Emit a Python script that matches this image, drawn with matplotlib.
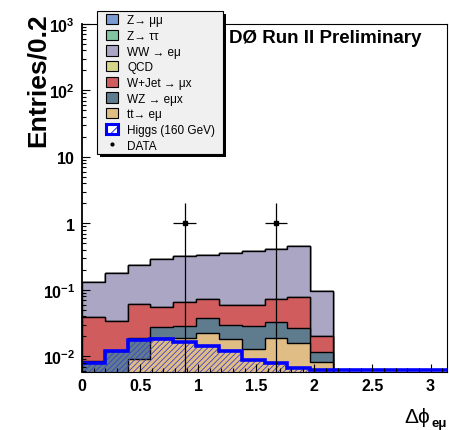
import numpy as np
import matplotlib
matplotlib.use('Agg')
import matplotlib.pyplot as plt
from matplotlib.patches import Patch, Rectangle
from matplotlib.lines import Line2D
from matplotlib.ticker import LogLocator, MultipleLocator, NullFormatter

plt.rcParams['font.family'] = ['Liberation Sans', 'DejaVu Sans']
plt.rcParams['mathtext.fontset'] = 'custom'
plt.rcParams['mathtext.rm'] = 'Liberation Sans'
plt.rcParams['mathtext.bf'] = 'Liberation Sans:bold'
plt.rcParams['hatch.linewidth'] = 0.6

# 16 bins in delta phi from 0 to pi
nbins = 16
edges = np.linspace(0, np.pi, nbins + 1)

# expected events per bin
zmumu = [0] * 16
ztautau = [0] * 16
qcd = [0] * 16
ttbar = [0, 0, 0.0092, 0.019, 0.019, 0.0226, 0.018, 0.0127, 0.019, 0.016, 0.0082, 0, 0, 0, 0, 0]
wz = [0.0085, 0.012, 0.0098, 0.0087, 0.010, 0.0152, 0.0114, 0.0157, 0.0136, 0.0105, 0.0035, 0, 0, 0, 0, 0]
wjet = [0.031, 0.0224, 0.042, 0.028, 0.0365, 0.0348, 0.0306, 0.0316, 0.0414, 0.0522, 0.0083, 0, 0, 0, 0, 0]
ww = [0.0935, 0.146, 0.179, 0.234, 0.255, 0.267, 0.300, 0.330, 0.336, 0.371, 0.077, 0, 0, 0, 0, 0]
higgs = [0.008, 0.012, 0.0173, 0.018, 0.0164, 0.0143, 0.012, 0.0087, 0.008, 0.0066, 0, 0, 0, 0, 0, 0]
data = [0, 0, 0, 0, 1, 0, 0, 0, 1, 0, 0, 0, 0, 0, 0, 0]

labels = ['Z\u2192 \u03bc\u03bc', 'Z\u2192 \u03c4\u03c4', 'WW \u2192 e\u03bc', 'QCD',
          'W+Jet \u2192 \u03bcx', 'WZ \u2192 e\u03bcx', 'tt\u2192 e\u03bc']
colors = ['#7b9bd3', '#80c4a0', '#aaa6c4', '#d6d48a', '#d05c5e', '#5f7b8e', '#e1bd86']

xticks = [0, 0.5, 1, 1.5, 2, 2.5, 3]
xticklabels = ['0', '0.5', '1', '1.5', '2', '2.5', '3']
yticks = [1e-2, 1e-1, 1, 10, 1e2, 1e3]
yticklabels = [r'$\mathbf{10^{-2}}$', r'$\mathbf{10^{-1}}$', r'$\mathbf{1}$',
               r'$\mathbf{10}$', r'$\mathbf{10^{2}}$', r'$\mathbf{10^{3}}$']

ymin, ymax = 0.0058, 1000.
floor = 1e-5
W, H = 449., 431.

fig = plt.figure(figsize=(4.49, 4.31), dpi=100)
ax = fig.add_axes([82 / W, 1 - 373 / H, 365 / W, 348 / H])
ax.set_yscale('log')

# stack, bottom to top
stack = [ttbar, wz, wjet, qcd, ww, ztautau, zmumu]
stackcols = [colors[6], colors[5], colors[4], colors[3], colors[2], colors[1], colors[0]]
cum = np.cumsum(np.array(stack, dtype=float), axis=0)
for i in reversed(range(len(stack))):
    h = np.maximum(cum[i], floor)
    ax.stairs(h, edges, baseline=floor, fill=True, color=stackcols[i], lw=0)
    ax.stairs(h, edges, baseline=floor, fill=False, color='k', lw=1)

# higgs signal, hatched overlay
hg = np.array(higgs, dtype=float)
ax.stairs(np.maximum(hg, floor), edges, baseline=floor, fill=True, facecolor='none',
          edgecolor='#4040c8', hatch='//////', lw=0)
ax.stairs(np.maximum(hg, ymin * 1.06), edges, baseline=None, color='#0000ff', lw=2.6)

# data
d = np.array(data, dtype=float)
centers = 0.5 * (edges[1:] + edges[:-1])
m = d > 0
ax.errorbar(centers[m], d[m], yerr=np.sqrt(d[m]), xerr=0.5 * (edges[1] - edges[0]),
            fmt='s', ms=2.5, color='k', lw=0.9, capsize=0, zorder=5)

ax.set_xlim(0, np.pi)
ax.set_ylim(ymin, ymax)
ax.set_xticks(xticks)
ax.set_xticklabels(xticklabels, fontsize=11.5, fontweight='bold')
ax.xaxis.set_minor_locator(MultipleLocator(0.1))
ax.set_yticks(yticks)
ax.set_yticklabels(yticklabels, fontsize=11.5)
ax.yaxis.set_minor_locator(LogLocator(base=10, subs=np.arange(2, 10)))
ax.yaxis.set_minor_formatter(NullFormatter())
ax.tick_params(which='both', direction='in', top=False, right=False)
ax.tick_params(which='major', length=6, width=0.8)
ax.tick_params(which='minor', length=3, width=0.8)
ax.tick_params(axis='x', pad=4)
ax.tick_params(axis='y', pad=5)
ax.spines['left'].set_linewidth(1.3)

fig.text(38 / W, 1 - 80 / H, 'Entries/0.2', rotation=90, fontsize=19,
         fontweight='bold', ha='center', va='center')
fig.text(430 / W, 1 - 423 / H, '\u0394\u03d5', fontsize=15, ha='right', va='baseline')
fig.text(431 / W, 1 - 427 / H, 'e\u03bc', fontsize=9.5, fontweight='bold',
         ha='left', va='baseline')
fig.text(229 / W, 1 - 43 / H, 'D\u00d8 Run II Preliminary', fontsize=13.5,
         fontweight='bold', ha='left', va='baseline')

# legend box with ROOT style shadow
fig.add_artist(Rectangle((100 / W, 1 - 158 / H), 126 / W, 143 / H, transform=fig.transFigure,
                         facecolor='k', edgecolor='none', zorder=5))
fig.add_artist(Rectangle((97 / W, 1 - 155 / H), 126 / W, 143 / H, transform=fig.transFigure,
                         facecolor='#f0f0f0', edgecolor='k', lw=0.8, zorder=5.5))

handles = [Patch(facecolor=c, edgecolor='k', lw=0.8) for c in colors]
handles.append(Patch(facecolor='white', edgecolor='#0000ff', lw=2.2, hatch='///'))
handles.append(Line2D([], [], marker='.', color='k', ls='none', ms=4))
leg = fig.legend(handles, labels + ['Higgs (160 GeV)', 'DATA'], loc='upper left',
                 bbox_to_anchor=(106 / W, 1 - 15 / H), bbox_transform=fig.transFigure,
                 fontsize=8.5, handlelength=1.0, handleheight=0.95, handletextpad=0.8,
                 labelspacing=0.3, borderpad=0, borderaxespad=0, frameon=False)
leg.set_zorder(6)

fig.savefig('out.png', dpi=100)
